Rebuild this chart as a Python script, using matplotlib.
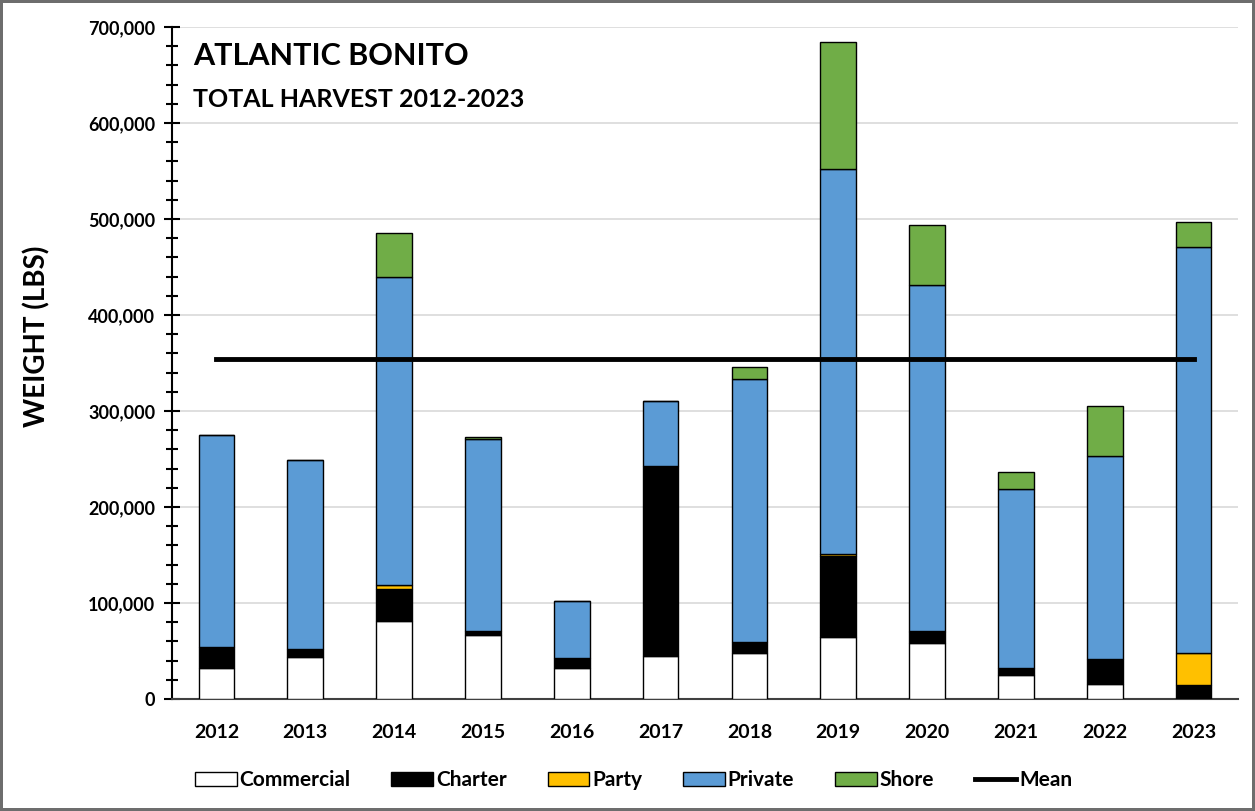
import numpy as np
import matplotlib.pyplot as plt
from matplotlib.ticker import FuncFormatter, MultipleLocator

# Harvest by mode (lbs)
years = ['2012', '2013', '2014', '2015', '2016', '2017',
         '2018', '2019', '2020', '2021', '2022', '2023']
commercial = [32000, 43400, 81000, 66700, 32000, 44500, 47600, 65000, 58000, 25000, 15600, 0]
charter = [22500, 8600, 34000, 4300, 11000, 198500, 11400, 84000, 11500, 7600, 26100, 14600]
party = [0, 0, 4000, 0, 0, 0, 0, 2000, 1500, 0, 0, 33400]
private = [220500, 197000, 321000, 199500, 59000, 67000, 274000, 401000, 360000, 186400, 211300, 423000]
shore = [0, 0, 45000, 2100, 0, 0, 13000, 132000, 63000, 17000, 52000, 26000]

series = [('Commercial', commercial, 'white'),
          ('Charter', charter, 'black'),
          ('Party', party, '#FFC000'),
          ('Private', private, '#5B9BD5'),
          ('Shore', shore, '#70AD47')]

plt.rcParams['font.family'] = ['Lato', 'DejaVu Sans']
plt.rcParams['font.weight'] = 'bold'

fig = plt.figure(figsize=(12.55, 8.11), dpi=100)
fig.patch.set_edgecolor('#6d6d6d')
fig.patch.set_linewidth(3)
ax = fig.add_axes([172 / 1255, 112 / 811, 1066 / 1255, 672 / 811])

x = np.arange(len(years))
bottom = np.zeros(len(years))
handles = []
for name, vals, color in series:
    b = ax.bar(x, vals, width=0.4, bottom=bottom, color=color,
               edgecolor='black', linewidth=1, label=name, zorder=3)
    handles.append(b)
    bottom += np.array(vals)

totals = bottom
mean = totals.mean()
mline, = ax.plot([x[0], x[-1]], [mean, mean], color='black', linewidth=3.5,
                 label='Mean', zorder=4)
handles.append(mline)

ax.set_xlim(-0.5, len(years) - 0.5)
ax.set_ylim(0, 700000)
ax.set_xticks(x)
ax.set_xticklabels(years, fontsize=14, fontweight='bold')
ax.tick_params(axis='x', length=0, pad=18)
ax.yaxis.set_major_locator(MultipleLocator(100000))
ax.yaxis.set_minor_locator(MultipleLocator(20000))
ax.yaxis.set_major_formatter(FuncFormatter(lambda v, p: f'{int(v):,}'))
ax.tick_params(axis='y', which='major', direction='inout', length=12,
               width=1.5, labelsize=13, pad=6)
ax.tick_params(axis='y', which='minor', direction='inout', length=8, width=1.5)
for lab in ax.get_yticklabels():
    lab.set_fontweight('bold')
ax.grid(axis='y', color='#d9d9d9', linewidth=1.2, zorder=0)
ax.set_axisbelow(True)
for s in ['top', 'right']:
    ax.spines[s].set_visible(False)
ax.spines['left'].set_linewidth(1.5)
ax.spines['bottom'].set_linewidth(1.5)
ax.spines['bottom'].set_color('#404040')

ax.set_ylabel('WEIGHT (LBS)', fontsize=20, fontweight='bold')
ax.yaxis.set_label_coords(-0.114, 0.539)

ax.text(0.02, 0.943, 'ATLANTIC BONITO', transform=ax.transAxes,
        fontsize=22, fontweight='bold', va='baseline')
ax.text(0.02, 0.881, 'TOTAL HARVEST 2012-2023', transform=ax.transAxes,
        fontsize=18, fontweight='bold', va='baseline')

fig.legend(handles=handles, labels=[s[0] for s in series] + ['Mean'],
           loc='center', bbox_to_anchor=(0.505, 0.038), ncol=6, frameon=False,
           handlelength=2.0, handletextpad=0.15, columnspacing=1.95,
           prop={'weight': 'bold', 'size': 15})

fig.savefig('out.png', dpi=100)
